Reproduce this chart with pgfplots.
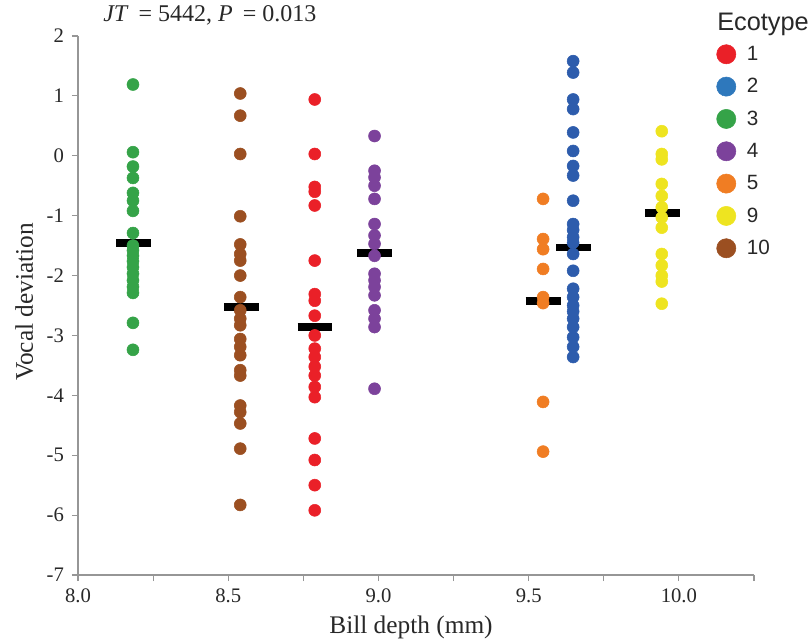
\documentclass[border=0pt]{standalone}
\usepackage{fontspec}
\setmainfont{Liberation Serif}
\newfontfamily\arialfont{Liberation Sans}
\usepackage{pgfplots}
\pgfplotsset{compat=1.18}
\definecolor{eco1}{RGB}{234,32,40}
\definecolor{eco2}{RGB}{45,92,172}
\definecolor{eco2L}{RGB}{46,120,188}
\definecolor{eco3}{RGB}{53,163,72}
\definecolor{eco4}{RGB}{124,66,155}
\definecolor{eco5}{RGB}{240,125,35}
\definecolor{eco9}{RGB}{238,228,32}
\definecolor{eco10}{RGB}{155,79,33}
\definecolor{axgray}{RGB}{150,150,150}
\definecolor{tickc}{RGB}{40,40,40}
\begin{document}
\begin{tikzpicture}[x=1pt,y=1pt]
\path[use as bounding box] (-58.5,-47.25) rectangle (550.5,431.25);
\begin{axis}[
  at={(0,0)}, anchor=south west, scale only axis,
  width=507pt, height=404.25pt,
  xmin=8, xmax=10.25, ymin=-7, ymax=2,
  axis lines=left, axis line style={-, draw=axgray, line width=0.8pt},
  tick align=outside, major tick length=4.5pt, minor tick length=4.5pt,
  tick style={draw=axgray, line width=0.8pt},
  xtick={8,8.5,9,9.5,10}, minor xtick={8.25,8.75,9.25,9.75,10.25},
  ytick={-7,-6,-5,-4,-3,-2,-1,0,1,2},
  /pgf/number format/assume math mode=true,
  tick label style={font=\fontsize{15.5}{18}\selectfont, text=tickc},
  xticklabel style={yshift=-2.5pt, /pgf/number format/.cd, fixed, fixed zerofill, precision=1},
  yticklabel style={xshift=-2.5pt},
  xlabel={Bill depth (mm)}, ylabel={Vocal deviation},
  label style={font=\fontsize{19}{22}\selectfont, text=tickc},
  xlabel style={at={(axis description cs:0.4926,-0.1076)}, anchor=base},
  ylabel style={at={(axis description cs:-0.0666,0.5065)}, anchor=base},
  clip=false,
  legend style={at={(0.9444,0.9844)}, anchor=north west, draw=none, fill=none,
    inner sep=0pt, outer sep=0pt, nodes={inner sep=0pt},
    row sep=9.45pt, column sep=8pt,
    font=\arialfont\fontsize{15.5}{18}\selectfont, text=tickc},
  legend cell align=left,
  legend image code/.code={\fill[#1] (0pt,0pt) circle (7.2pt);},
  every axis plot/.append style={only marks, mark=*, mark size=4.5pt},
]
% ecotype 3
\addplot[color=eco3, mark options={draw=none, fill=eco3}, forget plot] coordinates {
(8.183,1.19) (8.183,0.06) (8.183,-0.18) (8.183,-0.37) (8.183,-0.62) (8.183,-0.75)
(8.183,-0.92) (8.183,-1.29) (8.183,-1.50) (8.183,-1.58) (8.183,-1.67) (8.183,-1.76)
(8.183,-1.86) (8.183,-1.97) (8.183,-2.08) (8.183,-2.19) (8.183,-2.29) (8.183,-2.79) (8.183,-3.24)};
% ecotype 10
\addplot[color=eco10, mark options={draw=none, fill=eco10}, forget plot] coordinates {
(8.540,1.04) (8.540,0.67) (8.540,0.03) (8.540,-1.01) (8.540,-1.48) (8.540,-1.64)
(8.540,-1.75) (8.540,-2.00) (8.540,-2.36) (8.540,-2.58) (8.540,-2.72) (8.540,-2.83)
(8.540,-3.06) (8.540,-3.19) (8.540,-3.33) (8.540,-3.58) (8.540,-3.67) (8.540,-4.17)
(8.540,-4.28) (8.540,-4.47) (8.540,-4.89) (8.540,-5.83)};
% ecotype 1
\addplot[color=eco1, mark options={draw=none, fill=eco1}, forget plot] coordinates {
(8.788,0.94) (8.788,0.03) (8.788,-0.52) (8.788,-0.60) (8.788,-0.83) (8.788,-1.75)
(8.788,-2.31) (8.788,-2.42) (8.788,-2.67) (8.788,-3.00) (8.788,-3.22) (8.788,-3.36)
(8.788,-3.52) (8.788,-3.67) (8.788,-3.86) (8.788,-4.03) (8.788,-4.72) (8.788,-5.08)
(8.788,-5.50) (8.788,-5.92)};
% ecotype 4
\addplot[color=eco4, mark options={draw=none, fill=eco4}, forget plot] coordinates {
(8.987,0.33) (8.987,-0.25) (8.987,-0.36) (8.987,-0.50) (8.987,-0.72) (8.987,-1.14)
(8.987,-1.33) (8.987,-1.47) (8.987,-1.67) (8.987,-1.97) (8.987,-2.08) (8.987,-2.19)
(8.987,-2.33) (8.987,-2.58) (8.987,-2.72) (8.987,-2.86) (8.987,-3.89)};
% ecotype 5
\addplot[color=eco5, mark options={draw=none, fill=eco5}, forget plot] coordinates {
(9.548,-0.72) (9.548,-1.39) (9.548,-1.56) (9.548,-1.89) (9.548,-2.36) (9.548,-2.46)
(9.548,-4.11) (9.548,-4.94)};
% ecotype 2
\addplot[color=eco2, mark options={draw=none, fill=eco2}, forget plot] coordinates {
(9.648,1.58) (9.648,1.39) (9.648,0.94) (9.648,0.78) (9.648,0.39) (9.648,0.08)
(9.648,-0.17) (9.648,-0.33) (9.648,-0.75) (9.648,-1.14) (9.648,-1.24) (9.648,-1.36)
(9.648,-1.45) (9.648,-1.64) (9.648,-1.92) (9.648,-2.22) (9.648,-2.36) (9.648,-2.50)
(9.648,-2.60) (9.648,-2.72) (9.648,-2.86) (9.648,-3.03) (9.648,-3.19) (9.648,-3.36)};
% ecotype 9
\addplot[color=eco9, mark options={draw=none, fill=eco9}, forget plot] coordinates {
(9.943,0.41) (9.943,0.03) (9.943,-0.06) (9.943,-0.47) (9.943,-0.67) (9.943,-0.86)
(9.943,-1.03) (9.943,-1.20) (9.943,-1.64) (9.943,-1.83) (9.943,-2.00) (9.943,-2.10) (9.943,-2.47)};
% medians
\addplot[black, no marks, sharp plot, line width=5.8pt, forget plot] coordinates {(8.127,-1.46) (8.243,-1.46)};
\addplot[black, no marks, sharp plot, line width=5.8pt, forget plot] coordinates {(8.487,-2.53) (8.603,-2.53)};
\addplot[black, no marks, sharp plot, line width=5.8pt, forget plot] coordinates {(8.731,-2.86) (8.847,-2.86)};
\addplot[black, no marks, sharp plot, line width=5.8pt, forget plot] coordinates {(8.929,-1.62) (9.045,-1.62)};
\addplot[black, no marks, sharp plot, line width=5.8pt, forget plot] coordinates {(9.490,-2.42) (9.606,-2.42)};
\addplot[black, no marks, sharp plot, line width=5.8pt, forget plot] coordinates {(9.591,-1.53) (9.707,-1.53)};
\addplot[black, no marks, sharp plot, line width=5.8pt, forget plot] coordinates {(9.887,-0.96) (10.003,-0.96)};
% legend
\addlegendimage{eco1}\addlegendentry{1}
\addlegendimage{eco2L}\addlegendentry{2}
\addlegendimage{eco3}\addlegendentry{3}
\addlegendimage{eco4}\addlegendentry{4}
\addlegendimage{eco5}\addlegendentry{5}
\addlegendimage{eco9}\addlegendentry{9}
\addlegendimage{eco10}\addlegendentry{10}
\node[anchor=base west, inner sep=0pt, font=\fontsize{18}{21}\selectfont, text=tickc]
  at (rel axis cs:0.037,1.0278) {\textit{JT}\, = 5442, \textit{P}\, = 0.013};
\node[anchor=base west, inner sep=0pt, font=\arialfont\fontsize{19}{22}\selectfont, text=tickc]
  at (rel axis cs:0.9453,1.0111) {Ecotype};
\end{axis}
\end{tikzpicture}
\end{document}
